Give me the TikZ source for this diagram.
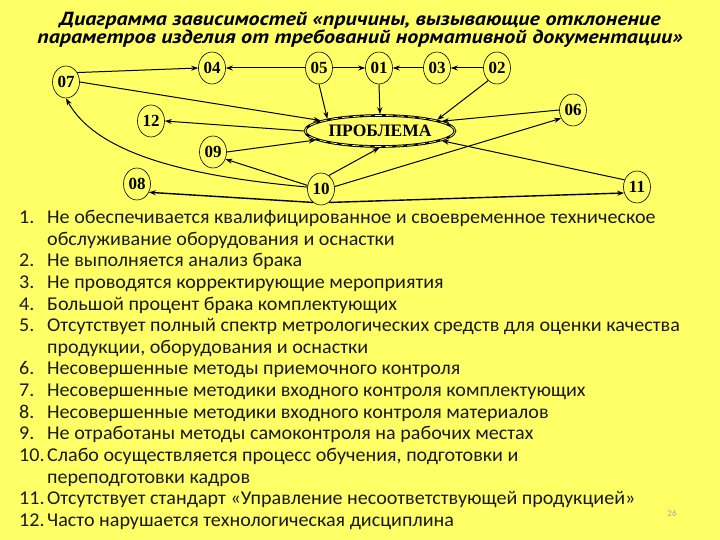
\documentclass[tikz,border=0pt]{standalone}
\usepackage{fontspec}
\setmainfont[FakeStretch=1.03]{Carlito}
\newfontfamily\titlefont[FakeStretch=1.16]{PT Sans}
\newfontfamily\nodefont{Liberation Serif}
\usetikzlibrary{shapes.geometric,arrows.meta}
\definecolor{bgyellow}{RGB}{255,255,102}
\definecolor{txt}{RGB}{25,25,25}
\begin{document}
\begin{tikzpicture}[x=1pt,y=-1pt,
  num/.style={ellipse,draw,line width=0.6pt,minimum width=27pt,minimum height=32pt,inner sep=0pt,font=\nodefont\bfseries\fontsize{17}{17}\selectfont},
  prob/.style={ellipse,draw,line width=2.6pt,minimum width=150pt,minimum height=31pt,inner sep=0pt,font=\nodefont\bfseries\fontsize{17.5}{17.5}\selectfont},
  con/.style={line width=1pt,-{Stealth[length=7pt,width=5pt]}},
  item/.style={anchor=base west,inner sep=0pt,font=\fontsize{19.5}{19.5}\selectfont,text=txt},
  ttl/.style={anchor=base,inner sep=0pt,font=\titlefont\bfseries\itshape\fontsize{19}{19}\selectfont}]
\fill[bgyellow] (0,0) rectangle (720,540);
\useasboundingbox (0,0) rectangle (720,540);

% title
\node[ttl] (t1) at (360,26) {Диаграмма зависимостей «причины, вызывающие отклонение};
\node[ttl] (t2) at (360,44) {параметров изделия от требований нормативной документации»};

% nodes
\node[num] (n07) at (66,82) {07};
\node[num] (n04) at (212,68) {04};
\node[num] (n05) at (319,68) {05};
\node[num] (n01) at (379,68) {01};
\node[num] (n03) at (437,68) {03};
\node[num] (n02) at (497,68) {02};
\node[num] (n12) at (151,121) {12};
\node[num] (n09) at (213,152) {09};
\node[num] (n08) at (137,184) {08};
\node[num] (n10) at (321,189) {10};
\node[num] (n06) at (573,110) {06};
\node[num] (n11) at (637,187) {11};
\node[prob] (P) at (380,131) {ПРОБЛЕМА};
\draw[bgyellow,line width=0.7pt,dash pattern=on 7pt off 4pt] (P.center) ellipse (75pt and 15.5pt);

% connectors
\draw[con] (n07.40) -- (n04.180);
\draw[con] (n07.east) -- (P.170);
\draw[con] (n05.west) -- (n04.east);
\draw[con] (n05.east) -- (n01.west);
\draw[con] (n03.west) -- (n01.east);
\draw[con] (n02.west) -- (n03.east);
\draw[con] (n05.south) -- (P.167);
\draw[con] (n01.south) -- (P.north);
\draw[con] (n02.235) -- (P.11);
\draw[con] (n06.west) -- (P.9);
\draw[con] (n11.150) -- (P.351);
\draw[con] (P.west) -- (n12.east);
\draw[con] (n09.east) -- (P.188);
\draw[con] (n10.165) -- (n09.-30);
\draw[con] (n10.60) -- (P.268);
\draw[con] (n10.10) -- (n06.215);
\draw[con,line width=1.4pt] (n10.240) -- (n08.-35);
\draw[con,line width=1.4pt] (n10.-60) -- (n11.205);
\draw[con] (n10.172) .. controls +(-97,-9) and +(34,62) .. (n07.south);

% list
\foreach \k/\n/\t in {
  0/1./{Не обеспечивается квалифицированное и своевременное техническое},
  1//{обслуживание оборудования и оснастки},
  2/2./{Не выполняется анализ брака},
  3/3./{Не проводятся корректирующие мероприятия},
  4/4./{Большой процент брака комплектующих},
  5/5./{Отсутствует полный спектр метрологических средств для оценки качества},
  6//{продукции, оборудования и оснастки},
  7/6./{Несовершенные методы приемочного контроля},
  8/7./{Несовершенные методики входного контроля комплектующих},
  9/8./{Несовершенные методики входного контроля материалов},
  10/9./{Не отработаны методы самоконтроля на рабочих местах},
  11/10./{Слабо осуществляется процесс обучения, подготовки и},
  12//{переподготовки кадров},
  13/11./{Отсутствует стандарт «Управление несоответствующей продукцией»},
  14/12./{Часто нарушается технологическая дисциплина}}{
  \node[item] (m\k) at (19,223.5+21.64*\k) {\n};
  \node[item] (l\k) at (47,223.5+21.64*\k) {\t};
}
\node[anchor=base,inner sep=0pt,font=\fontsize{9}{9}\selectfont,text=black!35] (pg) at (672,516) {26};
\end{tikzpicture}
\end{document}
